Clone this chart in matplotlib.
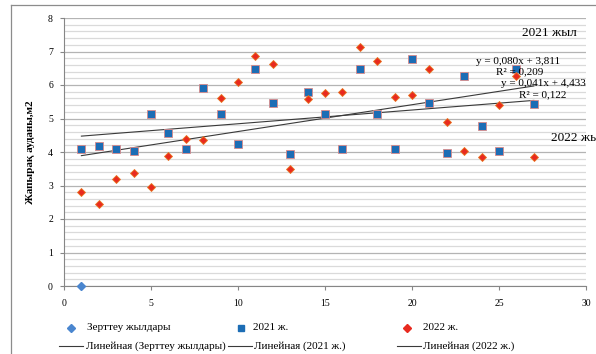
"""Leaf area by observation number for 2021 and 2022 with linear trends."""

import matplotlib.pyplot as plt
from matplotlib.lines import Line2D
from matplotlib.ticker import MultipleLocator

plt.rcParams["font.family"] = ["Liberation Serif", "DejaVu Serif"]

# observation index along the x axis
days = list(range(1, 28))

# leaf area, m2
area_2021 = [4.10, 4.18, 4.10, 4.02, 5.13, 4.58, 4.10, 5.92, 5.13, 4.23,
             6.47, 5.47, 3.93, 5.78, 5.13, 4.10, 6.48, 5.12, 4.10, 6.78,
             5.45, 3.96, 6.26, 4.77, 4.04, 6.48, 5.43]
area_2022 = [2.82, 2.46, 3.20, 3.37, 2.97, 3.89, 4.40, 4.35, 5.60, 6.10,
             6.88, 6.63, 3.48, 5.57, 5.75, 5.80, 7.13, 6.73, 5.65, 5.70,
             6.49, 4.89, 4.04, 3.85, 5.40, 6.27, 3.86]

# the "research years" series only has one point
years_x = [1]
years_y = [0]

# trend coefficients (slope, intercept, R²)
trend_2021 = (0.041, 4.433, 0.122)
trend_2022 = (0.080, 3.811, 0.209)

legend_labels = ["Зерттеу жылдары", "2021 ж.", "2022 ж.",
                 "Линейная (Зерттеу жылдары)", "Линейная (2021 ж.)", "Линейная (2022 ж.)"]

W, H = 596, 354
BLUE = "#1c6db5"
RED = "#e82a1f"
LIGHT = "#4a86cf"
AXIS = "#868686"
TREND = "#3a3a3a"


def fx(px):
    return px / W


def fy(py):
    return 1 - py / H


def fmt(v, digits=3):
    return f"{v:.{digits}f}".replace(".", ",")


fig = plt.figure(figsize=(W / 100, H / 100), dpi=100)
ax = fig.add_axes([fx(64), fy(286), fx(586) - fx(64), fy(18) - fy(286)])

ax.set_xlim(0, 30)
ax.set_ylim(0, 8)
ax.xaxis.set_major_locator(MultipleLocator(5))
ax.yaxis.set_major_locator(MultipleLocator(1))
ax.yaxis.set_minor_locator(MultipleLocator(0.2))
ax.grid(True, which="major", axis="y", color="#b4b4b4", linewidth=0.9)
ax.grid(True, which="minor", axis="y", color="#dadada", linewidth=0.9)
ax.set_axisbelow(True)

for side in ("top", "right"):
    ax.spines[side].set_visible(False)
for side in ("left", "bottom"):
    ax.spines[side].set_color(AXIS)
    ax.spines[side].set_linewidth(0.8)

ax.tick_params(axis="both", which="major", colors=AXIS, labelcolor="black",
               labelsize=7, length=3, width=0.8)
ax.tick_params(axis="y", which="minor", length=0)
ax.tick_params(axis="x", pad=6)
ax.tick_params(axis="y", pad=5)

ax.set_ylabel("Жапырақ ауданы,м2", fontsize=8, fontweight="bold", labelpad=9)

# trend lines
for slope, intercept, _ in (trend_2021, trend_2022):
    xs = [days[0], days[-1]]
    ax.plot(xs, [slope * x + intercept for x in xs], color=TREND, linewidth=0.8, zorder=2)

ax.plot(days, area_2021, linestyle="none", marker="s", markersize=5.2,
        markerfacecolor=BLUE, markeredgecolor="#d98a8a", markeredgewidth=0.6, zorder=3)
ax.plot(days, area_2022, linestyle="none", marker="D", markersize=4.2,
        markerfacecolor=RED, markeredgecolor="#e8741f", markeredgewidth=0.6, zorder=3)
ax.plot(years_x, years_y, linestyle="none", marker="D", markersize=4.0,
        markerfacecolor=LIGHT, markeredgecolor=LIGHT, zorder=4, clip_on=False)

# equation labels
s22, b22, r22 = trend_2022
s21, b21, r21 = trend_2021
ax.text(23.7, 6.69, f"y = {fmt(s22)}x + {fmt(b22)}", fontsize=8, va="center", clip_on=False)
ax.text(24.8, 6.39, f"R² = {fmt(r22)}", fontsize=8, va="center", clip_on=False)
ax.text(25.1, 6.03, f"y = {fmt(s21)}x + {fmt(b21)}", fontsize=8, va="center", clip_on=False)
ax.text(26.15, 5.70, f"R² = {fmt(r21)}", fontsize=8, va="center", clip_on=False)
ax.text(26.3, 7.55, "2021 жыл", fontsize=9.5, va="center", clip_on=False)
ax.text(28.0, 4.42, "2022 жыл", fontsize=9.5, va="center", clip_on=False)

# chart area border (runs off the right and bottom edges)
fig.add_artist(Line2D([fx(11), fx(11)], [fy(5), 0], color="#8c8c8c", linewidth=0.9))
fig.add_artist(Line2D([fx(11), 1], [fy(5), fy(5)], color="#8c8c8c", linewidth=0.9))

# legend, laid out like the spreadsheet one
marker_items = [
    (71, 87, legend_labels[0], dict(marker="D", markersize=3.6, color=LIGHT)),
    (241, 253, legend_labels[1], dict(marker="s", markersize=4.2, color=BLUE)),
    (407, 423, legend_labels[2], dict(marker="D", markersize=3.6, color=RED)),
]
for mx, tx, label, style in marker_items:
    fig.add_artist(Line2D([fx(mx)], [fy(328)], linestyle="none", **style))
    fig.text(fx(tx), fy(328), label, fontsize=8, va="center")

line_items = [(59, 83, 86, legend_labels[3]),
              (228, 252, 254, legend_labels[4]),
              (397, 421, 423, legend_labels[5])]
for x0, x1, tx, label in line_items:
    fig.add_artist(Line2D([fx(x0), fx(x1)], [fy(346), fy(346)], color=TREND, linewidth=0.8))
    fig.text(fx(tx), fy(346), label, fontsize=8, va="center")

fig.savefig("out.png", dpi=100)
